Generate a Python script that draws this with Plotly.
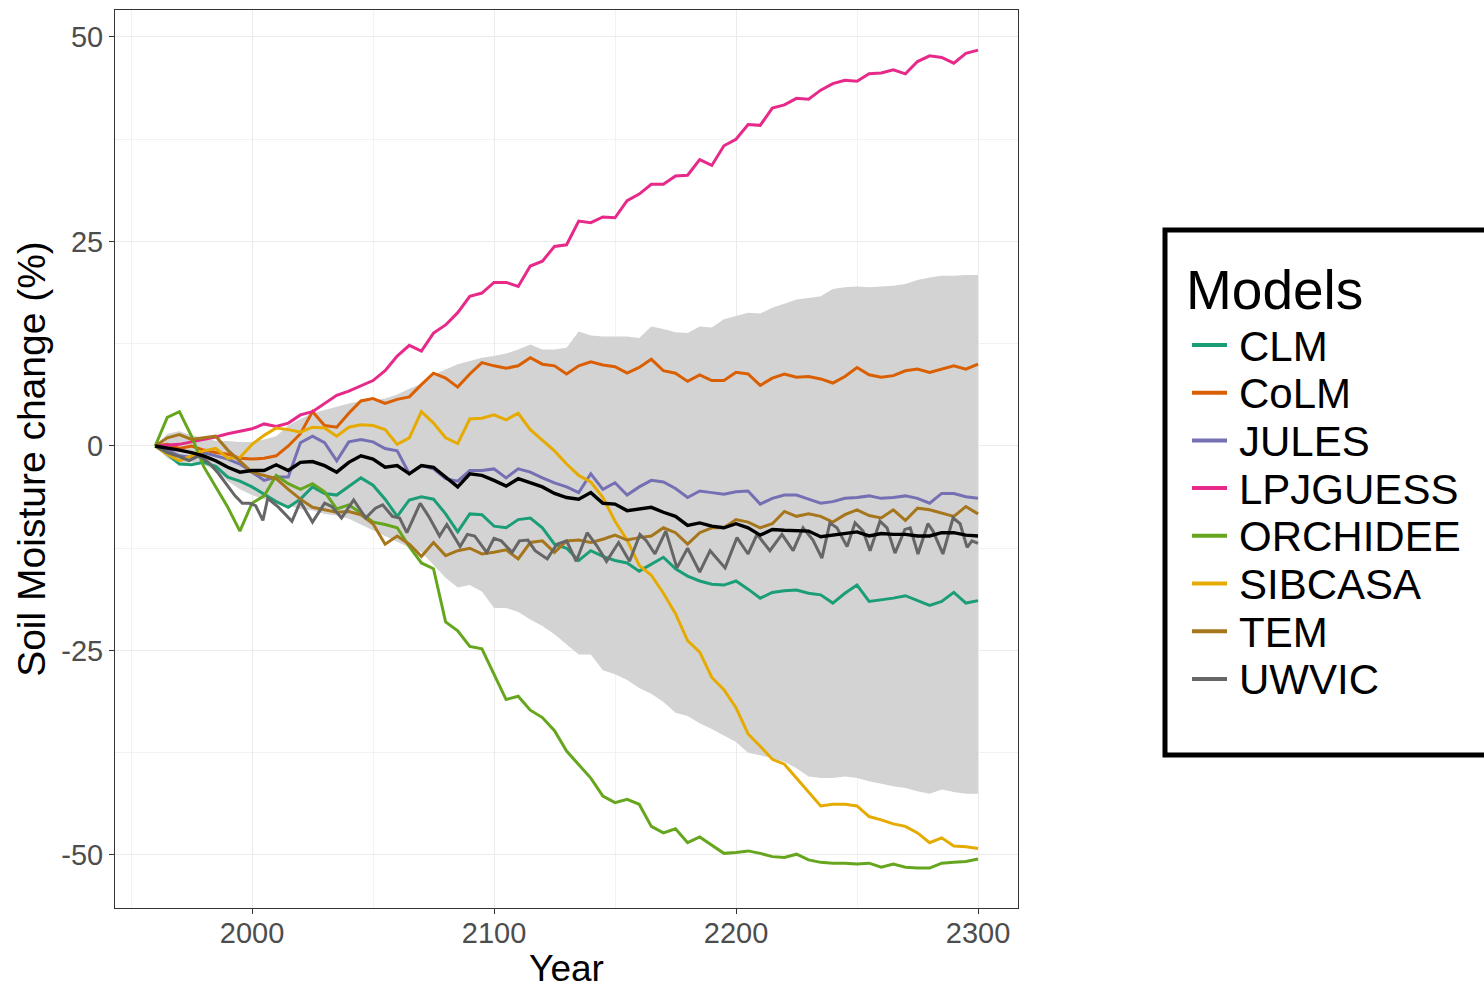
import plotly.graph_objects as go

# ---------------------------------------------------------------------------
# Data: soil moisture change (%) relative to 1960, sampled every 5 years
# ---------------------------------------------------------------------------
YEARS = list(range(1960, 2301, 5))

CLM = [0.0, -1.0, -2.2, -2.3, -2.0, -2.5, -3.8, -4.3, -5.0, -5.9,
       -6.8, -7.5, -6.5, -5.0, -5.8, -6.0, -5.0, -3.9, -4.8, -6.5,
       -8.6, -6.6, -6.2, -6.5, -8.3, -10.5, -8.3, -8.4, -9.8, -10.0,
       -9.0, -8.8, -10.0, -12.0, -12.5, -14.0, -12.8, -13.5, -14.0, -14.3,
       -15.3, -14.5, -13.6, -15.0, -15.9, -16.5, -16.9, -17.0, -16.5, -17.5,
       -18.6, -17.9, -17.7, -17.6, -18.0, -18.2, -19.2, -18.0, -17.0, -19.0,
       -18.8, -18.6, -18.3, -18.9, -19.5, -19.0, -17.9, -19.2, -18.9]

COLM = [0.0, 0.2, -0.3, 0.0, -0.5, -0.8, -1.0, -1.5, -1.6, -1.5,
        -1.2, 0.0, 1.5, 4.2, 2.5, 2.3, 4.0, 5.5, 5.8, 5.2,
        5.7, 6.0, 7.5, 8.9, 8.3, 7.2, 8.8, 10.2, 9.8, 9.5,
        9.8, 10.8, 10.0, 9.8, 8.8, 9.8, 10.3, 9.9, 9.7, 8.9,
        9.6, 10.6, 9.2, 8.9, 7.9, 8.7, 8.0, 8.0, 9.0, 8.8,
        7.4, 8.3, 8.8, 8.4, 8.5, 8.2, 7.7, 8.5, 9.6, 8.7,
        8.4, 8.6, 9.2, 9.4, 9.0, 9.4, 9.8, 9.4, 10.0]

JULES = [0.0, -0.5, -1.2, -1.4, -0.8, -1.2, -1.6, -2.2, -3.2, -4.2,
         -3.8, -3.8, 0.4, 1.2, 0.4, -1.8, 0.5, 0.8, 0.5, -0.3,
         -0.6, -3.4, -2.4, -2.8, -4.0, -4.3, -3.0, -3.0, -2.8, -3.9,
         -2.8, -3.2, -3.9, -4.5, -5.0, -5.7, -3.4, -5.3, -4.5, -6.0,
         -5.0, -4.2, -4.4, -5.2, -6.3, -5.5, -5.7, -5.9, -5.6, -5.5,
         -7.1, -6.4, -6.0, -6.0, -6.5, -7.0, -6.8, -6.4, -6.3, -6.1,
         -6.4, -6.3, -6.1, -6.4, -7.0, -5.8, -5.8, -6.2, -6.4]

LPJGUESS = [0.0, 0.1, 0.2, 0.5, 0.8, 1.1, 1.5, 1.8, 2.1, 2.7,
            2.4, 2.8, 3.8, 4.2, 5.2, 6.2, 6.7, 7.4, 8.0, 9.2,
            11.0, 12.3, 11.6, 13.8, 14.8, 16.3, 18.3, 18.7, 20.0, 20.0,
            19.5, 22.0, 22.6, 24.4, 24.6, 27.5, 27.3, 28.0, 27.9, 30.0,
            30.8, 32.0, 32.0, 33.0, 33.1, 35.0, 34.3, 36.7, 37.5, 39.3,
            39.2, 41.3, 41.7, 42.5, 42.4, 43.5, 44.3, 44.7, 44.6, 45.5,
            45.6, 46.0, 45.5, 47.0, 47.7, 47.5, 46.8, 48.0, 48.4]

ORCHIDEE = [0.0, 3.5, 4.2, 1.2, -2.5, -5.0, -7.5, -10.4, -7.0, -6.1,
            -3.6, -4.6, -5.3, -4.6, -5.6, -7.7, -7.2, -8.2, -9.3, -9.6,
            -10.0, -12.3, -14.3, -15.0, -21.5, -22.6, -24.5, -24.8, -28.0, -31.0,
            -30.6, -32.3, -33.2, -34.8, -37.3, -38.9, -40.6, -42.8, -43.6, -43.2,
            -43.8, -46.5, -47.3, -46.8, -48.5, -47.8, -48.8, -49.8, -49.7, -49.5,
            -49.8, -50.2, -50.3, -49.9, -50.6, -50.9, -51.0, -51.0, -51.1, -51.0,
            -51.5, -51.1, -51.5, -51.6, -51.6, -51.0, -50.9, -50.8, -50.5]

SIBCASA = [0.0, -1.0, -1.8, -1.2, -0.6, -0.3, -1.5, -1.4, 0.2, 1.3,
           2.2, 2.0, 1.7, 2.3, 2.2, 1.2, 2.3, 2.6, 2.5, 2.0,
           0.2, 1.0, 4.2, 2.8, 1.0, 0.3, 3.3, 3.4, 3.8, 3.2,
           4.0, 2.0, 0.7, -0.6, -2.2, -3.6, -4.4, -6.3, -9.2, -11.5,
           -14.6, -15.8, -18.0, -20.5, -23.8, -25.2, -28.3, -29.8, -32.0, -35.2,
           -36.7, -38.3, -38.9, -40.6, -42.2, -44.0, -43.8, -43.8, -44.0, -45.3,
           -45.7, -46.2, -46.5, -47.3, -48.5, -47.9, -48.9, -49.0, -49.2]

TEM = [0.0, 1.0, 1.4, 0.8, 1.0, 1.2, -0.5, -1.8, -3.2, -3.6,
       -4.0, -5.3, -6.5, -7.5, -7.8, -8.1, -8.0, -8.4, -9.5, -12.0,
       -11.0, -12.0, -13.5, -11.8, -13.4, -12.8, -12.5, -13.2, -13.0, -12.7,
       -13.8, -11.8, -11.6, -13.0, -11.6, -11.5, -11.8, -11.4, -10.9, -11.5,
       -11.2, -11.0, -10.0, -10.6, -12.0, -10.6, -10.0, -10.0, -9.0, -9.3,
       -10.0, -9.5, -8.0, -8.6, -8.3, -8.6, -9.3, -8.4, -7.8, -8.5,
       -8.8, -7.8, -9.1, -7.6, -7.8, -8.2, -8.6, -7.4, -8.3]

# UWVIC oscillates on a ~10-year cycle, so it is kept at its turning points
UWVIC_YEARS = [1960, 1965, 1970, 1974, 1978, 1982, 1986, 1990, 1993, 1996,
               1999, 2001.5, 2004.5, 2006.5, 2011, 2016.5, 2020, 2025, 2030, 2033,
               2037, 2042, 2047, 2051, 2054, 2058, 2061, 2064, 2069.5, 2073,
               2077.5, 2080.5, 2086, 2089, 2092, 2097, 2100, 2103, 2107.5, 2110.5,
               2114, 2117, 2122, 2126, 2130, 2134, 2138.5, 2142.5, 2146.5, 2151.5,
               2156, 2160.3, 2163, 2166.5, 2171, 2175.6, 2180, 2185, 2189.3, 2195.5,
               2200.4, 2205, 2208.7, 2214, 2219, 2223.6, 2227.7, 2231.8, 2235.5, 2238.8,
               2241.7, 2245.9, 2249.2, 2252.5, 2255.4, 2259.5, 2262.4, 2265.7, 2269.8, 2272,
               2275.2, 2279.3, 2281.4, 2285.5, 2289.7, 2292.6, 2295.5, 2297.5, 2300]
UWVIC = [0.0, -0.8, -1.3, -1.8, -1.2, -2.0, -3.3, -4.9, -6.1, -7.0,
         -7.0, -7.3, -9.1, -6.4, -7.5, -9.2, -6.8, -9.3, -7.0, -7.4,
         -8.8, -6.6, -8.8, -7.6, -7.2, -8.6, -8.8, -10.6, -7.0, -8.6,
         -11.0, -9.6, -12.3, -10.8, -11.0, -13.0, -11.3, -11.6, -13.0, -11.6,
         -11.5, -12.8, -13.8, -12.0, -11.6, -14.1, -10.6, -12.2, -14.1, -11.8,
         -14.1, -10.8, -11.6, -13.2, -10.4, -14.9, -12.5, -15.4, -12.8, -14.9,
         -11.2, -13.2, -10.8, -12.8, -10.8, -12.8, -10.0, -11.5, -13.7, -9.4,
         -10.0, -12.3, -9.4, -10.4, -12.8, -9.2, -10.0, -13.1, -10.2, -10.0,
         -13.2, -9.5, -10.4, -13.2, -8.8, -9.5, -12.4, -11.6, -11.9]

# Ensemble mean and spread envelope
ENSEMBLE_MEAN = [0.0, -0.2, -0.5, -0.8, -1.2, -1.8, -2.6, -3.2, -3.0, -3.0,
                 -2.3, -3.0, -2.0, -1.9, -2.4, -3.2, -2.0, -1.2, -1.6, -2.6,
                 -2.4, -3.4, -2.4, -2.6, -3.8, -5.0, -3.4, -3.6, -4.2, -4.9,
                 -4.0, -4.5, -5.0, -5.8, -6.3, -6.5, -5.7, -7.0, -7.1, -7.9,
                 -7.7, -7.5, -8.1, -8.6, -9.7, -9.4, -9.8, -10.0, -9.5, -10.0,
                 -10.9, -10.2, -10.3, -10.4, -10.4, -11.1, -10.9, -10.6, -10.5, -11.0,
                 -10.7, -10.8, -10.8, -11.0, -11.0, -10.6, -10.6, -10.9, -11.0]

SPREAD_UPPER = [0.0, 1.5, 1.8, 1.3, 1.0, 0.6, 0.6, 0.5, 0.5, 0.8,
                1.2, 2.5, 3.3, 4.0, 4.4, 4.8, 5.2, 5.5, 5.6, 5.8,
                6.3, 7.0, 7.6, 8.7, 9.4, 10.0, 10.4, 10.8, 11.0, 11.3,
                11.8, 12.4, 11.8, 11.8, 12.0, 14.0, 13.5, 13.4, 13.4, 13.4,
                13.2, 14.6, 14.3, 13.9, 13.8, 14.6, 14.5, 15.5, 15.9, 16.3,
                16.2, 16.9, 17.4, 17.9, 18.1, 18.3, 19.2, 19.4, 19.5, 19.4,
                19.5, 19.6, 19.8, 20.3, 20.6, 20.8, 20.8, 20.9, 20.9]

SPREAD_LOWER = [0.0, -1.5, -2.2, -2.0, -2.3, -3.0, -4.3, -5.3, -6.0, -6.5,
                -7.0, -7.3, -7.7, -7.9, -8.3, -8.5, -8.9, -9.6, -10.3, -11.0,
                -11.8, -12.4, -13.0, -14.6, -16.1, -17.3, -17.0, -17.8, -19.8, -19.8,
                -20.3, -21.2, -22.0, -23.0, -24.3, -25.5, -25.5, -27.4, -27.9, -28.6,
                -29.6, -30.3, -31.3, -32.6, -33.0, -33.9, -34.6, -35.4, -36.2, -37.5,
                -37.8, -38.2, -38.6, -39.4, -40.4, -40.6, -40.6, -40.4, -40.6, -41.0,
                -41.3, -41.6, -41.8, -42.2, -42.5, -42.0, -42.3, -42.5, -42.5]

MODELS = ["CLM", "CoLM", "JULES", "LPJGUESS", "ORCHIDEE", "SIBCASA", "TEM", "UWVIC"]
COLORS = ["#1B9E77", "#D95F02", "#7570B3", "#E7298A",
          "#66A61E", "#E6AB02", "#A6761D", "#666666"]
SERIES = {
    "CLM": (YEARS, CLM),
    "CoLM": (YEARS, COLM),
    "JULES": (YEARS, JULES),
    "LPJGUESS": (YEARS, LPJGUESS),
    "ORCHIDEE": (YEARS, ORCHIDEE),
    "SIBCASA": (YEARS, SIBCASA),
    "TEM": (YEARS, TEM),
    "UWVIC": (UWVIC_YEARS, UWVIC),
}

X_TICKS = [2000, 2100, 2200, 2300]
X_MINOR = [1950, 2050, 2150, 2250]
Y_TICKS = [-50, -25, 0, 25, 50]
Y_MINOR = [-37.5, -12.5, 12.5, 37.5]

# ---------------------------------------------------------------------------
# Figure geometry (pixels)
# ---------------------------------------------------------------------------
W, H = 1484, 989
PLOT_L, PLOT_R, PLOT_T, PLOT_B = 115, 1018, 10, 908
FONT = "Liberation Sans, Arial, sans-serif"


def paper_x(px):
    return (px - PLOT_L) / (PLOT_R - PLOT_L)


def paper_y(py):
    return (PLOT_B - py) / (PLOT_B - PLOT_T)


fig = go.Figure()

# Spread envelope
fig.add_trace(go.Scatter(x=YEARS, y=SPREAD_LOWER, mode="lines",
                         line=dict(width=0, color="#D3D3D3"),
                         showlegend=False, hoverinfo="skip"))
fig.add_trace(go.Scatter(x=YEARS, y=SPREAD_UPPER, mode="lines",
                         line=dict(width=0, color="#D3D3D3"),
                         fill="tonexty", fillcolor="#D3D3D3",
                         showlegend=False, hoverinfo="skip"))

# Individual models
for name, color in zip(MODELS, COLORS):
    xs, ys = SERIES[name]
    fig.add_trace(go.Scatter(x=xs, y=ys, mode="lines", name=name,
                             line=dict(color=color, width=3.0),
                             showlegend=False))

# Ensemble mean
fig.add_trace(go.Scatter(x=YEARS, y=ENSEMBLE_MEAN, mode="lines", name="Mean",
                         line=dict(color="black", width=3.4), showlegend=False))

axis_common = dict(
    showline=True, linecolor="#333333", linewidth=1, mirror=True,
    ticks="outside", ticklen=5, tickwidth=1, tickcolor="#333333",
    tickfont=dict(family=FONT, size=29, color="#4D4D4D"),
    showgrid=True, gridcolor="#EBEBEB", gridwidth=1.2,
    zeroline=False,
)

fig.update_layout(
    width=W, height=H,
    margin=dict(l=PLOT_L, r=W - PLOT_R, t=PLOT_T, b=H - PLOT_B, autoexpand=False),
    paper_bgcolor="white", plot_bgcolor="white",
    showlegend=False,
    xaxis=dict(
        range=[1943.39, 2316.53],
        tickmode="array", tickvals=X_TICKS, ticktext=[str(v) for v in X_TICKS],
        ticklabelstandoff=-6,
        minor=dict(tickmode="array", tickvals=X_MINOR, showgrid=True,
                   gridcolor="#F2F2F2", gridwidth=0.8, ticks=""),
        title=dict(text="Year", font=dict(family=FONT, size=37, color="black"),
                   standoff=12),
        **axis_common,
    ),
    yaxis=dict(
        range=[-56.48, 53.30],
        tickmode="array", tickvals=Y_TICKS, ticktext=[str(v) for v in Y_TICKS],
        minor=dict(tickmode="array", tickvals=Y_MINOR, showgrid=True,
                   gridcolor="#F2F2F2", gridwidth=0.8, ticks=""),
        title=dict(text="Soil Moisture change (%)",
                   font=dict(family=FONT, size=39, color="black"), standoff=3),
        **axis_common,
    ),
)

# Legend panel: framed box with title and coloured key lines
shapes = [dict(type="rect", xref="paper", yref="paper",
               x0=paper_x(1165), x1=paper_x(1520),
               y0=paper_y(755), y1=paper_y(230),
               line=dict(color="black", width=5), fillcolor="rgba(0,0,0,0)")]
annotations = [dict(text="Models", xref="paper", yref="paper",
                    x=paper_x(1184), y=paper_y(290), xanchor="left", yanchor="middle",
                    showarrow=False, font=dict(family=FONT, size=55, color="black"))]
ROW0, ROW_STEP = 345, 47.7
for i, (name, color) in enumerate(zip(MODELS, COLORS)):
    cy = ROW0 + i * ROW_STEP
    shapes.append(dict(type="line", xref="paper", yref="paper",
                       x0=paper_x(1192), x1=paper_x(1227),
                       y0=paper_y(cy), y1=paper_y(cy),
                       line=dict(color=color, width=4)))
    annotations.append(dict(text=name, xref="paper", yref="paper",
                            x=paper_x(1237), y=paper_y(cy + 1),
                            xanchor="left", yanchor="middle", showarrow=False,
                            font=dict(family=FONT, size=42, color="black")))

fig.update_layout(shapes=shapes, annotations=annotations)

fig.write_html("out.html")
